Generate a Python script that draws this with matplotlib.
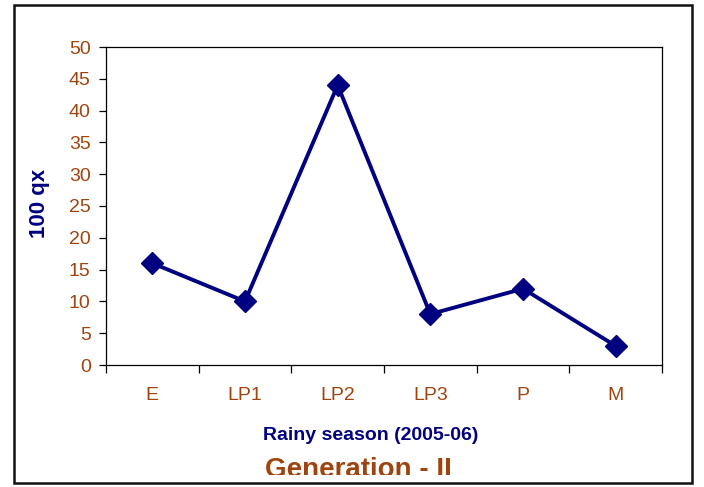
import matplotlib
matplotlib.use("Agg")
import matplotlib.pyplot as plt
from matplotlib.patches import Rectangle

categories = ["E", "LP1", "LP2", "LP3", "P", "M"]
values = [16, 10, 44, 8, 12, 3]
yticks = [0, 5, 10, 15, 20, 25, 30, 35, 40, 45, 50]

W, H = 704, 487
plt.rcParams['font.family'] = ['Liberation Sans', 'DejaVu Sans']
fig = plt.figure(figsize=(W / 100, H / 100), dpi=100)
ax = fig.add_axes([106 / W, 1 - 365 / H, (662 - 106) / W, (365 - 47) / H])

navy = "#000080"
brown = "#A0440F"
x = list(range(len(categories)))
ax.plot(x, values, color=navy, lw=2.8, marker="D", ms=11, mfc=navy, mec=navy, zorder=3)

ax.set_xlim(-0.5, len(categories) - 0.5)
ax.set_ylim(0, 50)
ax.set_yticks(yticks)
ax.set_yticklabels([str(v) for v in yticks], color=brown, fontsize=14)
ax.set_xticks(x)
ax.set_xticklabels(categories, color=brown, fontsize=14)
ax.tick_params(axis="x", length=0, pad=16)
ax.set_xticks([i - 0.5 for i in range(len(categories) + 1)], minor=True)
ax.tick_params(axis="x", which="minor", length=6, width=0.9, direction="out")
ax.tick_params(axis="y", length=5, width=0.9, direction="out", pad=6)
for s in ax.spines.values():
    s.set_linewidth(0.9)

fig.text(371 / W, 1 - 436 / H, "Rainy season (2005-06)", color=navy, fontsize=14,
         fontweight="bold", ha="center", va="center")
fig.text(40 / W, 1 - 203 / H, "100 qx", color=navy, fontsize=16, fontweight="bold",
         ha="center", va="center", rotation=90)
fig.text(358 / W, 1 - 477 / H, "Generation - II", color=brown, fontsize=20,
         fontweight="bold", ha="center", va="baseline")

# white cover to clip bottom of title
fig.patches.append(Rectangle((14 / W, 1 - 483 / H), (692 - 14) / W, (483 - 475) / H,
                             transform=fig.transFigure, facecolor="white",
                             edgecolor="none", zorder=5))
# outer frame
fig.patches.append(Rectangle((14 / W, 1 - 483 / H), (692 - 14) / W, (483 - 5) / H,
                             transform=fig.transFigure, facecolor="none",
                             edgecolor="#111111", lw=1.8, zorder=6))

fig.savefig("out.png", dpi=100)
